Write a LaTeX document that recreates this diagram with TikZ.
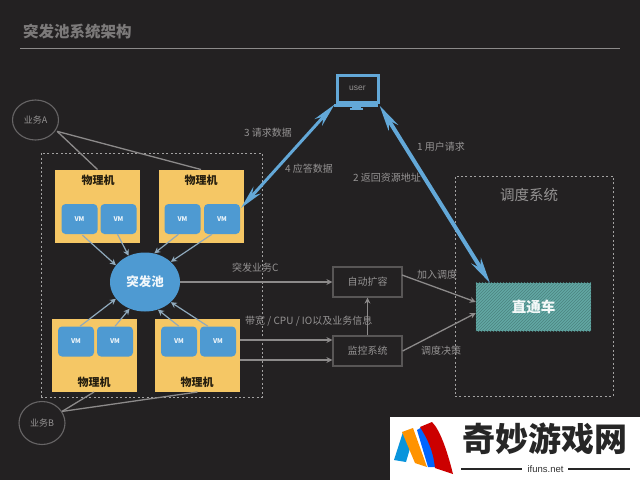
\documentclass[tikz,border=0pt]{standalone}
\usepackage{fontspec}
\setmainfont{Noto Sans CJK SC}
\newfontfamily\latinf{Liberation Sans}
\usetikzlibrary{arrows.meta,patterns,shapes.geometric}
\definecolor{bgc}{HTML}{232122}
\definecolor{txtc}{HTML}{959393}
\definecolor{linec}{HTML}{8C8A8A}
\definecolor{yel}{HTML}{F5C765}
\definecolor{blu}{HTML}{4E9AD2}
\definecolor{blul}{HTML}{63A8D8}
\definecolor{teal1}{HTML}{62A8A4}
\definecolor{vmarrow}{HTML}{8FA9BC}
\tikzset{
  x=1pt,y=-1pt,
  pm/.style={fill=yel,draw=none,minimum width=85pt,minimum height=73pt,inner sep=0pt,outer sep=0pt},
  pmtext/.style={font=\fontsize{11}{11}\selectfont\bfseries,text=black!85!yel,inner sep=0pt},
  vm/.style={fill=blu,draw=none,rounded corners=4pt,minimum width=36pt,minimum height=30pt,inner sep=0pt,text=white!90!blu,font=\fontsize{6.5}{6.5}\selectfont\bfseries},
  lab/.style={text=txtc,font=\fontsize{10}{10}\selectfont,inner sep=0pt},
  cbox/.style={draw=linec!50!bgc,line width=1.2pt,minimum width=69pt,minimum height=30pt,inner sep=0pt,text=txtc,font=\fontsize{10}{10}\selectfont},
  dashbox/.style={draw=white!58!bgc,line width=1pt,dash pattern=on 2pt off 2.4pt,fill=none,inner sep=0pt},
  circ/.style={ellipse,draw=linec!65!bgc,line width=1.1pt,inner sep=0pt,text=txtc,font=\fontsize{9}{9}\selectfont},
  gl/.style={draw=linec,line width=1.3pt},
  ga/.style={gl,-{Stealth[length=6pt,width=6pt]}},
  va/.style={draw=vmarrow,line width=1.2pt,-{Stealth[length=6pt,width=6pt]}},
  bigb/.style={draw=blul,line width=4pt,{Stealth[length=26pt,width=11pt]}-{Stealth[length=26pt,width=11pt]}},
  bigc/.style={draw=blul,line width=3pt,{Stealth[length=24pt,width=10pt]}-{Stealth[length=24pt,width=10pt]}}
}
\begin{document}
\begin{tikzpicture}
\useasboundingbox (0,0) rectangle (640,480);
\fill[bgc] (0,0) rectangle (640,480);
% title
\node[anchor=west,text=linec!85!bgc,font=\fontsize{15.5}{15.5}\selectfont\bfseries,inner sep=0pt] (title) at (23,32) {突发池系统架构};
\coordinate (ruleL) at (20,48.5); \coordinate (ruleR) at (620,48.5);
\draw[draw=linec,line width=1.6pt] (ruleL) -- (ruleR);
% dashed boxes
\node[dashbox,minimum width=221pt,minimum height=244pt] (zone) at (151.5,275) {};
\node[dashbox,minimum width=158pt,minimum height=220pt] (sched) at (534,286) {};
\node[text=txtc,font=\fontsize{14.5}{14.5}\selectfont,inner sep=0pt] (schedt) at (529,195) {调度系统};
% physical machines
\node[pm] (pa) at (97.5,206) {};
\node[pm] (pb) at (201,206) {};
\node[pm] (pc) at (94,355.5) {};
\node[pm] (pd) at (197.5,355.5) {};
\node[pmtext] (pat) at (98,180) {物理机};
\node[pmtext] (pbt) at (201,180) {物理机};
\node[pmtext] (pct) at (94,382) {物理机};
\node[pmtext] (pdt) at (197,382) {物理机};
\node[vm] (v1) at (79.5,219) {VM};
\node[vm] (v2) at (118.5,219) {VM};
\node[vm] (v3) at (182.5,219) {VM};
\node[vm] (v4) at (222,219) {VM};
\node[vm] (v5) at (76,341.5) {VM};
\node[vm] (v6) at (115,341.5) {VM};
\node[vm] (v7) at (179,341.5) {VM};
\node[vm] (v8) at (218,341.5) {VM};
% pool
\node[ellipse,fill=blu,minimum width=70pt,minimum height=59pt,inner sep=0pt,text=white!92!blu,font=\fontsize{12.5}{12.5}\selectfont\bfseries] (pool) at (145,282) {突发池};
\draw[va] (v1.south) ++(3,1) -- (pool.150);
\draw[va] (v2.south) ++(-1,0) -- (pool.122);
\draw[va] (v3.south) ++(-4,0) -- (pool.72);
\draw[va] (v4.south) ++(-10,0) -- (pool.38);
\draw[va] (v5.north) ++(4,0) -- (pool.210);
\draw[va] (v6.north) -- (pool.240);
\draw[va] (v7.north) -- (pool.295);
\draw[va] (v8.north) ++(-10,0) -- (pool.322);
% business
\node[circ,minimum width=46pt,minimum height=40pt] (ba) at (35.5,120) {业务A};
\node[circ,minimum width=46pt,minimum height=43pt] (bb) at (42,423) {业务B};
\draw[gl] (ba.-30) ++(2,0) -- (pa.north);
\draw[gl] (ba.-30) ++(2,0) -- (pb.north);
\draw[gl] (bb.30) -- (pc.south);
\draw[gl] (bb.30) -- (pd.south);
% control boxes
\node[cbox] (auto) at (367.5,282) {自动扩容};
\node[cbox] (mon) at (367.5,351) {监控系统};
\draw[ga] (pool.east) -- (pool.east -| auto.west);
\coordinate (ma) at (240,340); \coordinate (mb) at (240,360);
\draw[ga] (ma) -- (ma -| mon.west);
\draw[ga] (mb) -- (mb -| mon.west);
\draw[ga] (mon.north) -- (auto.south);
% direct
\node[fill=teal1,minimum width=115pt,minimum height=48pt,inner sep=0pt] (dir) at (533.5,307) {};
\fill[pattern=north east lines,pattern color=teal1!78!black] (dir.north west) rectangle (dir.south east);
\node[text=white!92!teal1,font=\fontsize{14.5}{14.5}\selectfont\bfseries,inner sep=0pt] (dirt) at (533.5,307) {直通车};
\coordinate (autoout) at (402,275);
\draw[ga] (autoout) -- (dir.175);
\draw[ga] (mon.east) -- (dir.186);
% monitor
\node[draw=blul,line width=3pt,minimum width=41pt,minimum height=27pt,inner sep=0pt,text=txtc,font=\fontsize{8.5}{8.5}\selectfont\latinf] (user) at (357.5,88.5) {user};
\fill[blul] (user.south west) ++(-1.5,0) rectangle ++(44,3.5);
\fill[blul] (352,105) rectangle (361,108);
\fill[blul] (350,108) rectangle (363,110);
\coordinate (dirin) at (490,283);
\coordinate (vmout) at (241,208);
\draw[bigb] (user.south east) ++(0,2) -- (dirin);
\draw[bigc] (user.south west) ++(-1,1) -- (vmout);
% labels
\node[lab,anchor=west] (l3) at (244,133) {3 请求数据};
\node[lab,anchor=west] (l4) at (285,168.5) {4 应答数据};
\node[lab,anchor=west] (l1) at (417,146.5) {1 用户请求};
\node[lab,anchor=west] (l2) at (353,178) {2 返回资源地址};
\node[lab,anchor=west] (lc) at (232,268) {突发业务C};
\node[lab,anchor=west] (li) at (245,321) {带宽 / CPU / IO以及业务信息};
\node[lab,anchor=west] (lj) at (417,275) {加入调度};
\node[lab,anchor=west] (ld) at (421,351) {调度决策};
% watermark
\fill[white] (390,417) rectangle (640,480);
\fill[cyan!80!blue] (394,460) -- (403,432) -- (411,445) -- (406,462) -- cycle;
\fill[blue!60!cyan] (417,430) -- (422,427) -- (432,447) -- (437,467) -- (428,467) -- cycle;
\fill[orange!85!yellow] (402,432) -- (413,428) -- (427,467) -- (415,463) -- cycle;
\fill[red!80!black] (420,427) -- (432,422) .. controls (440,430) and (447,450) .. (453,474) -- (435,468) .. controls (433,450) and (428,440) .. (420,427) -- cycle;
\node[text=black!85,font=\fontsize{33}{33}\selectfont\bfseries,inner sep=0pt] (wm) at (544.5,439) {奇妙游戏网};
\node[text=black!80,font=\fontsize{9.5}{9.5}\selectfont\latinf,inner sep=0pt] (wu) at (545.5,469) {ifuns.net};
\draw[black!85,line width=1.3pt] (461,469) -- (522,469);
\draw[black!85,line width=1.3pt] (568,469) -- (630,469);
\end{tikzpicture}
\end{document}
